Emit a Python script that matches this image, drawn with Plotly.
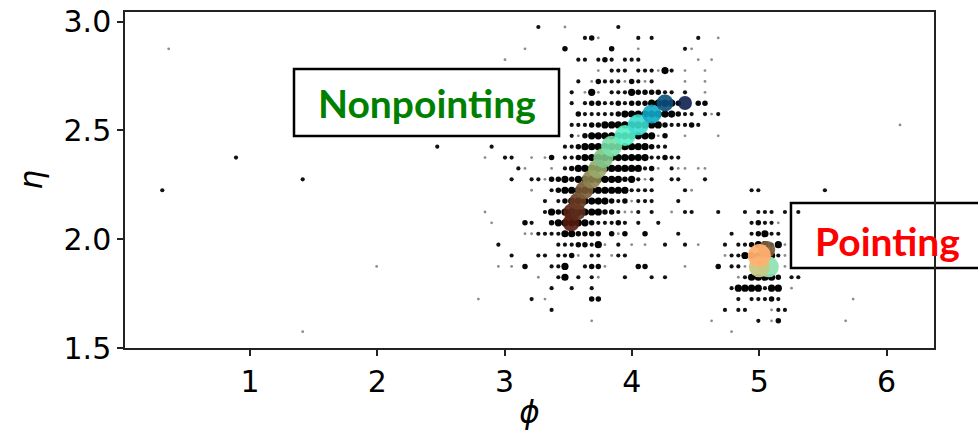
import plotly.graph_objects as go

# ---------------- data ----------------
# binned occupancy dots: one list of phi values and one list of levels per eta row
ROW_ETA = [2.975, 2.925, 2.875, 2.825, 2.775, 2.725, 2.675, 2.625, 2.575, 2.525,
           2.475, 2.425, 2.375, 2.325, 2.275, 2.225, 2.175, 2.125, 2.075, 2.025,
           1.975, 1.925, 1.875, 1.825, 1.775, 1.725, 1.675, 1.625, 1.575]

ROW_PHI = [
    [3.265, 3.474, 3.893],
    [3.631, 3.684, 3.736, 4.050, 4.155, 4.521, 4.678],
    [0.361, 3.160, 3.474, 3.841, 4.050, 4.417, 4.469],
    [3.003, 3.579, 3.631, 3.736, 3.788, 3.841, 3.945, 3.998, 4.050, 4.521, 4.626],
    [3.736, 3.841, 3.893, 3.945, 4.050, 4.103, 4.155, 4.207, 4.260, 4.312, 4.417, 4.574],
    [3.579, 3.684, 3.736, 3.788, 3.841, 3.893, 3.945, 3.998, 4.050, 4.103, 4.155, 4.417, 4.574],
    [3.527, 3.631, 3.684, 3.736, 3.841, 3.893, 3.945, 3.998, 4.050, 4.103, 4.155, 4.207, 4.260, 4.312, 4.417, 4.574],
    [3.527, 3.631, 3.684, 3.736, 3.788, 3.841, 3.893, 3.945, 3.998, 4.050, 4.103, 4.155, 4.207, 4.260, 4.312, 4.364, 4.521, 4.574],
    [3.579, 3.631, 3.684, 3.736, 3.788, 3.841, 3.893, 3.945, 3.998, 4.050, 4.103, 4.155, 4.207, 4.260, 4.312, 4.364, 4.417, 4.469, 4.574, 4.626, 4.678],
    [3.527, 3.579, 3.631, 3.684, 3.736, 3.788, 3.841, 3.893, 3.945, 3.998, 4.050, 4.103, 4.155, 4.207, 4.260, 4.312, 4.364, 4.417, 4.469, 4.521, 6.106],
    [3.527, 3.579, 3.631, 3.684, 3.736, 3.788, 3.841, 3.893, 3.945, 3.998, 4.050, 4.103, 4.155, 4.207, 4.260, 4.417, 4.678],
    [2.471, 2.898, 3.474, 3.527, 3.579, 3.631, 3.684, 3.736, 3.788, 3.841, 3.893, 3.945, 3.998, 4.050, 4.103, 4.155, 4.207, 4.260],
    [0.890, 2.846, 3.003, 3.055, 3.212, 3.317, 3.369, 3.474, 3.527, 3.579, 3.631, 3.684, 3.736, 3.788, 3.841, 3.893, 3.945, 3.998, 4.050, 4.103, 4.155, 4.207, 4.260, 4.312, 4.364],
    [3.108, 3.160, 3.369, 3.474, 3.527, 3.579, 3.631, 3.684, 3.736, 3.788, 3.841, 3.893, 3.945, 3.998, 4.050, 4.103, 4.155, 4.207, 4.312, 4.364, 4.417, 4.521, 4.574],
    [1.414, 3.055, 3.212, 3.265, 3.317, 3.369, 3.422, 3.474, 3.527, 3.579, 3.631, 3.684, 3.736, 3.788, 3.841, 3.893, 3.945, 3.998, 4.050, 4.103, 4.155, 4.312, 4.364, 4.574],
    [0.311, 3.212, 3.369, 3.422, 3.474, 3.527, 3.579, 3.631, 3.684, 3.736, 3.788, 3.841, 3.893, 3.945, 3.998, 4.050, 4.103, 4.155, 4.417, 4.469, 4.940, 4.993, 5.516],
    [3.317, 3.422, 3.474, 3.527, 3.579, 3.631, 3.684, 3.736, 3.788, 3.841, 3.893, 3.945, 3.998, 4.050, 4.103, 4.155, 4.364],
    [2.846, 3.317, 3.369, 3.422, 3.474, 3.527, 3.579, 3.631, 3.684, 3.736, 3.788, 3.841, 3.893, 3.945, 3.998, 4.050, 4.155, 4.312, 4.417, 4.469, 4.678,
     4.888, 4.993, 5.045, 5.097, 5.202, 5.307],
    [2.898, 3.160, 3.212, 3.369, 3.422, 3.474, 3.527, 3.579, 3.631, 3.684, 3.736, 3.788, 3.841, 3.893, 3.945, 4.050, 4.207,
     4.940, 4.993, 5.045, 5.097, 5.150],
    [3.160, 3.212, 3.265, 3.317, 3.369, 3.422, 3.474, 3.527, 3.579, 3.631, 3.684, 3.736, 3.841, 3.893, 3.945, 4.103, 4.364,
     4.783, 4.940, 4.993, 5.045, 5.097, 5.150],
    [2.951, 3.422, 3.474, 3.527, 3.579, 3.631, 3.684, 3.736, 3.788, 3.893, 3.998, 4.103, 4.260, 4.417, 4.521,
     4.731, 4.836, 4.888, 4.940, 4.993, 5.045, 5.097, 5.150, 5.202],
    [3.055, 3.265, 3.317, 3.422, 3.474, 3.527, 3.579, 3.684, 3.736, 3.841, 3.893, 3.945, 4.731,
     4.783, 4.836, 4.888, 4.940, 4.993, 5.045, 5.097, 5.150, 5.202],
    [1.995, 2.951, 3.055, 3.160, 3.369, 3.422, 3.474, 3.631, 3.684, 3.736, 3.788, 4.050, 4.103, 4.417, 4.678,
     4.783, 4.836, 4.888, 5.202],
    [3.265, 3.422, 3.474, 3.579, 3.684, 3.736, 3.945, 4.155, 4.260,
     4.836, 4.888, 4.940, 4.993, 5.045, 5.097, 5.150, 5.254, 5.307],
    [3.369, 3.527, 3.684,
     4.783, 4.836, 4.888, 4.940, 4.993, 5.045, 5.097, 5.150, 5.254],
    [2.794, 3.212, 3.317, 3.684, 3.736,
     4.836, 4.940, 4.993, 5.045, 5.097, 5.150, 5.738],
    [3.369, 4.731, 4.836, 4.888, 5.097, 5.150, 5.202],
    [3.684, 4.626, 4.993, 5.097, 5.150, 5.679],
    [1.414, 4.783],
]

# dot level: 1 = sparse (small grey), 2 = few, 3 = medium, 4 = dense
ROW_LEVEL = [
    [2, 1, 2],
    [2, 3, 1, 2, 2, 2, 1],
    [1, 1, 3, 3, 1, 2, 1],
    [1, 2, 2, 2, 3, 2, 2, 2, 2, 1, 1],
    [1, 2, 2, 2, 2, 2, 2, 1, 4, 2, 1, 1],
    [2, 1, 3, 2, 2, 2, 1, 3, 2, 1, 2, 1, 1],
    [2, 1, 4, 1, 2, 2, 2, 4, 3, 3, 3, 3, 2, 2, 2, 1],
    [2, 2, 3, 3, 2, 2, 3, 2, 3, 3, 3, 4, 4, 4, 4, 3, 3, 3],
    [3, 2, 2, 2, 2, 2, 3, 4, 4, 4, 4, 4, 4, 4, 4, 3, 2, 2, 2, 1, 2],
    [2, 2, 2, 3, 3, 4, 4, 4, 4, 4, 4, 4, 4, 4, 3, 2, 2, 2, 3, 2, 1],
    [2, 1, 3, 4, 4, 4, 4, 4, 4, 4, 4, 4, 4, 1, 3, 1, 1],
    [2, 2, 2, 2, 3, 4, 4, 4, 4, 4, 4, 4, 4, 4, 4, 3, 2, 2],
    [2, 1, 2, 2, 1, 1, 3, 2, 2, 3, 4, 4, 4, 4, 4, 4, 4, 4, 4, 4, 2, 2, 3, 2, 2],
    [2, 1, 1, 2, 3, 4, 4, 4, 4, 4, 4, 4, 4, 4, 4, 2, 3, 1, 2, 1, 1, 1, 1],
    [2, 2, 2, 2, 1, 3, 3, 4, 3, 4, 4, 4, 4, 4, 4, 4, 3, 4, 2, 1, 2, 2, 2, 2],
    [2, 1, 2, 3, 4, 4, 4, 4, 4, 4, 4, 4, 4, 4, 2, 2, 2, 2, 2, 1, 2, 2, 2],
    [2, 2, 3, 4, 4, 4, 4, 4, 4, 3, 2, 3, 1, 2, 2, 2, 2],
    [1, 2, 4, 3, 4, 4, 4, 4, 4, 4, 3, 3, 2, 1, 1, 2, 2, 1, 2, 2, 2,
     2, 2, 2, 2, 2, 2],
    [1, 3, 2, 3, 4, 4, 4, 4, 4, 3, 2, 2, 2, 3, 2, 2, 2,
     2, 3, 2, 2, 1],
    [1, 1, 2, 2, 2, 2, 4, 4, 3, 3, 3, 3, 3, 1, 3, 3, 2,
     2, 2, 3, 4, 2, 2],
    [2, 2, 2, 2, 3, 3, 2, 4, 1, 2, 1, 1, 2, 2, 1,
     2, 2, 2, 3, 4, 4, 2, 4, 1],
    [2, 2, 2, 2, 2, 3, 1, 2, 2, 1, 2, 2, 1,
     2, 2, 4, 4, 4, 4, 4, 2, 1],
    [1, 1, 1, 3, 2, 2, 4, 2, 3, 3, 1, 3, 3, 1, 3,
     2, 2, 1, 1],
    [1, 2, 4, 2, 2, 1, 2, 2, 2,
     1, 2, 4, 4, 4, 4, 3, 2, 2],
    [2, 2, 2,
     2, 4, 4, 4, 4, 2, 4, 4, 1],
    [1, 2, 1, 3, 3,
     2, 2, 2, 2, 3, 2, 1],
    [2, 2, 2, 2, 1, 2, 2],
    [1, 1, 2, 1, 3, 1],
    [1, 1],
]

# mean-position track (nonpointing) and pointing cluster
TRACK_PHI = [3.522, 3.527, 3.574, 3.574, 3.626, 3.684, 3.730, 3.775, 3.841, 3.946, 4.050, 4.156, 4.260, 4.417]
TRACK_ETA = [2.075, 2.125, 2.125, 2.174, 2.225, 2.276, 2.323, 2.373, 2.427, 2.476, 2.526, 2.575, 2.626, 2.626]
TRACK_COLOR = ["#561a0e", "#5c2212", "#5a2c1c", "#6a3c22", "#7a5a36", "#8c8450", "#98a868",
               "#80c488", "#78e0a8", "#58f0c8", "#3cdcd0", "#10a8c8", "#0a4f7c", "#10204e"]
TRACK_SIZE = [17, 17, 16, 17, 18, 19, 19, 20, 21, 21, 21, 19, 17, 14]

POINT_PHI = [5.072, 5.059, 5.001, 5.001]
POINT_ETA = [1.873, 1.953, 1.873, 1.925]
POINT_COLOR = ["#90e4b4", "#7a5c3c", "#c8c884", "#ffb070"]
POINT_SIZE = [21, 17, 21, 23]

X_TICKS = [1, 2, 3, 4, 5, 6]
Y_TICKS = [1.5, 2.0, 2.5, 3.0]

# ---------------- figure ----------------
LEVEL_SIZE = {1: 2.8, 2: 4.2, 3: 5.5, 4: 7.2}
LEVEL_COLOR = {1: "#8c8c8c", 2: "#121212", 3: "#080808", 4: "#030303"}

fig = go.Figure()

for lvl in (1, 2, 3, 4):
    xs, ys = [], []
    for eta, phis, lvls in zip(ROW_ETA, ROW_PHI, ROW_LEVEL):
        for p, l in zip(phis, lvls):
            if l == lvl:
                xs.append(p)
                ys.append(eta)
    fig.add_trace(go.Scatter(
        x=xs, y=ys, mode="markers",
        marker=dict(size=LEVEL_SIZE[lvl], color=LEVEL_COLOR[lvl], line=dict(width=0)),
        showlegend=False, hoverinfo="skip"))

fig.add_trace(go.Scatter(
    x=TRACK_PHI, y=TRACK_ETA, mode="markers",
    marker=dict(size=TRACK_SIZE, color=TRACK_COLOR, opacity=0.9, line=dict(width=0)),
    showlegend=False, hoverinfo="skip"))

fig.add_trace(go.Scatter(
    x=POINT_PHI, y=POINT_ETA, mode="markers",
    marker=dict(size=POINT_SIZE, color=POINT_COLOR, opacity=0.95, line=dict(width=0)),
    showlegend=False, hoverinfo="skip"))

axis_font = dict(family="DejaVu Sans", size=30, color="black")

fig.update_xaxes(
    range=[0.018, 6.373], tickvals=X_TICKS, ticktext=[str(v) for v in X_TICKS],
    ticks="outside", ticklen=6, tickwidth=1.5, tickcolor="#222",
    showline=True, linecolor="#222", linewidth=1.5, mirror=True, automargin=False,
    showgrid=False, zeroline=False, tickfont=axis_font,
    title=dict(text="<i>ϕ</i>", font=dict(family="DejaVu Sans", size=31, color="black"), standoff=4))
fig.update_yaxes(
    range=[1.5, 3.044], tickvals=Y_TICKS, ticktext=[f"{v:.1f}" for v in Y_TICKS],
    ticks="outside", ticklen=6, tickwidth=1.5, tickcolor="#222",
    showline=True, linecolor="#222", linewidth=1.5, mirror=True, automargin=False,
    showgrid=False, zeroline=False, tickfont=axis_font,
    title=dict(text="<i>η</i>", font=dict(family="DejaVu Sans", size=31, color="black"), standoff=12))

# label boxes
fig.add_shape(type="rect", xref="paper", yref="paper", x0=0.2089, x1=0.5365, y0=0.631, y1=0.8304,
              line=dict(color="black", width=2.5), fillcolor="white", layer="below")
fig.add_shape(type="rect", xref="paper", yref="paper", x0=0.8232, x1=1.09, y0=0.2381, y1=0.4315,
              line=dict(color="black", width=2.5), fillcolor="white", layer="below")
fig.add_annotation(text="<b>Nonpointing</b>", xref="paper", yref="paper", x=0.3727, y=0.729,
                   xanchor="center", yanchor="middle",
                   showarrow=False, font=dict(family="Lato", size=39, color="#008000"))
fig.add_annotation(text="<b>Pointing</b>", xref="paper", yref="paper", x=0.943, y=0.3185,
                   xanchor="center", yanchor="middle",
                   showarrow=False, font=dict(family="Lato", size=39, color="#ff0000"))

fig.update_layout(
    width=978, height=433, autosize=False,
    margin=dict(l=125, r=44, t=12, b=85),
    paper_bgcolor="white", plot_bgcolor="white",
)

fig.write_html("out.html")
